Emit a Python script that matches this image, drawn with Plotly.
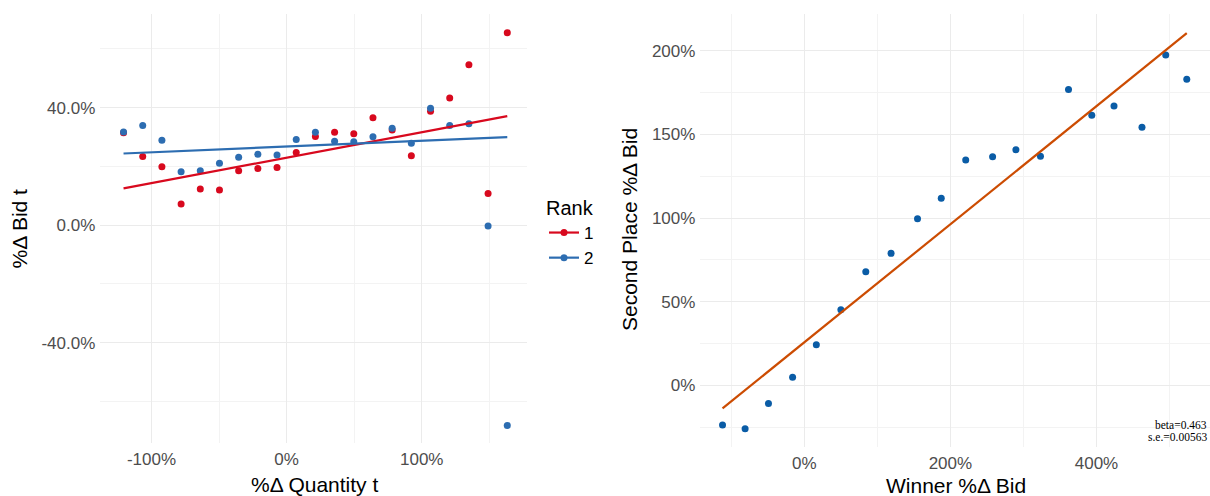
import plotly.graph_objects as go

# ---------------- data (percent units) ----------------
quantity_change = [-120.7, -106.5, -92.3, -78.1, -63.9, -49.7, -35.5, -21.3, -7.1, 7.1,
                   21.3, 35.5, 49.7, 63.9, 78.1, 92.3, 106.5, 120.7, 134.9, 149.1, 163.3]
rank1_bid = [31.5, 23.4, 19.9, 7.2, 12.3, 12.0, 18.5, 19.3, 19.6, 24.7,
             30.2, 31.6, 31.1, 36.6, 32.4, 23.6, 38.8, 43.3, 54.6, 10.8, 65.5]
rank2_bid = [31.7, 33.9, 28.9, 18.2, 18.5, 21.1, 23.1, 24.1, 23.9, 29.2,
             31.6, 28.6, 28.4, 30.1, 33.0, 27.9, 39.8, 33.9, 34.5, -0.3, -68.2]
# fitted-line values at the ends of the quantity range
rank1_fit = [12.5, 37.1]
rank2_fit = [24.4, 30.0]

winner_change = [-111.9, -81.0, -49.0, -16.0, 16.5, 50.1, 84.2, 118.8, 155.0, 187.5,
                 221.0, 257.8, 289.7, 323.3, 361.7, 393.6, 424.0, 462.3, 494.8, 523.6]
second_change = [-23.7, -25.9, -10.8, 4.8, 24.3, 45.2, 67.9, 78.9, 99.6, 111.8,
                 134.7, 136.7, 140.9, 136.9, 176.8, 161.5, 167.0, 154.3, 197.5, 183.0]
winner_fit = [-13.8, 210.5]
beta_label = "beta=0.463"
se_label = "s.e.=0.00563"

rank_names = ["1", "2"]

left_x_ticks = [-100, 0, 100]
left_x_labels = ["-100%", "0%", "100%"]
left_x_minor = [-50, 50, 150]
left_y_ticks = [-40, 0, 40]
left_y_labels = ["-40.0%", "0.0%", "40.0%"]
left_y_minor = [-60, -20, 20, 60]

right_x_ticks = [0, 200, 400]
right_x_labels = ["0%", "200%", "400%"]
right_x_minor = [-100, 100, 300, 500]
right_y_ticks = [0, 50, 100, 150, 200]
right_y_labels = ["0%", "50%", "100%", "150%", "200%"]
right_y_minor = [-25, 25, 75, 125, 175]

# ---------------- styling ----------------
W, H = 1210, 496
RED = "#D8091E"
BLUE = "#2D6DB1"
DOT = "#0A5CA6"
ORANGE = "#CC4C02"
FONT = "Liberation Sans, Arial, sans-serif"
TICK = dict(family=FONT, size=17, color="#4D4D4D")
MAJ = "#EBEBEB"
MIN = "#F3F3F3"


def px(x):
    return x / W


def py(y):
    return 1 - y / H


fig = go.Figure()

fit_x = [min(quantity_change), max(quantity_change)]
for name, vals, fit, col in [(rank_names[0], rank1_bid, rank1_fit, RED),
                             (rank_names[1], rank2_bid, rank2_fit, BLUE)]:
    fig.add_trace(go.Scatter(x=quantity_change, y=vals, mode="markers",
                             marker=dict(color=col, size=7), showlegend=False,
                             xaxis="x", yaxis="y"))
for name, vals, fit, col in [(rank_names[0], rank1_bid, rank1_fit, RED),
                             (rank_names[1], rank2_bid, rank2_fit, BLUE)]:
    fig.add_trace(go.Scatter(x=fit_x, y=fit, mode="lines",
                             line=dict(color=col, width=2.2), showlegend=False,
                             xaxis="x", yaxis="y"))
for name, col in [(rank_names[0], RED), (rank_names[1], BLUE)]:
    fig.add_trace(go.Scatter(x=[None], y=[None], mode="lines+markers", name=name,
                             line=dict(color=col, width=2.2),
                             marker=dict(color=col, size=7),
                             xaxis="x", yaxis="y"))

fig.add_trace(go.Scatter(x=winner_change, y=second_change, mode="markers",
                         marker=dict(color=DOT, size=7), showlegend=False,
                         xaxis="x2", yaxis="y2"))
fig.add_trace(go.Scatter(x=[min(winner_change), max(winner_change)], y=winner_fit,
                         mode="lines", line=dict(color=ORANGE, width=2.2),
                         showlegend=False, xaxis="x2", yaxis="y2"))


def axis(domain, rng, tv, tt, minor, anchor, standoff):
    return dict(domain=domain, range=rng, tickmode="array", tickvals=tv, ticktext=tt,
                showgrid=True, gridcolor=MAJ, gridwidth=1.3, zeroline=False,
                showline=False, ticks="", tickfont=TICK, anchor=anchor,
                ticklabelstandoff=standoff,
                minor=dict(tickmode="array", tickvals=minor, showgrid=True,
                           gridcolor=MIN, gridwidth=1, ticks=""))


fig.update_layout(
    width=W, height=H, autosize=False,
    margin=dict(l=0, r=0, t=0, b=0),
    paper_bgcolor="white", plot_bgcolor="white",
    font=dict(family=FONT, color="black"),
    xaxis=axis([px(100.3), px(527.4)], [-137.9, 178.2], left_x_ticks, left_x_labels,
               left_x_minor, "y", 4),
    yaxis=axis([py(443.3), py(14)], [-74.3, 71.9], left_y_ticks, left_y_labels,
               left_y_minor, "x", 4),
    xaxis2=axis([px(700.4), 1.0], [-142.2, 555.4], right_x_ticks, right_x_labels,
                right_x_minor, "y2", 4),
    yaxis2=axis([py(446.7), py(14)], [-36.7, 222], right_y_ticks, right_y_labels,
                right_y_minor, "x2", 4),
    legend=dict(title=dict(text="Rank", font=dict(family=FONT, size=20, color="black")),
                font=dict(family=FONT, size=17, color="black"),
                x=px(544), y=py(189), xanchor="left", yanchor="top",
                bgcolor="rgba(0,0,0,0)", itemwidth=30, tracegroupgap=0),
    showlegend=True,
)

ann = [
    dict(text="%Δ Quantity t", x=px(314), y=py(484), size=21, angle=0),
    dict(text="%Δ Bid t", x=px(19), y=py(228.5), size=21, angle=-90),
    dict(text="Winner %Δ Bid", x=px(956), y=py(485), size=21, angle=0),
    dict(text="Second Place %Δ Bid", x=px(630), y=py(230), size=21, angle=-90),
]
for a in ann:
    fig.add_annotation(text=a["text"], x=a["x"], y=a["y"], xref="paper", yref="paper",
                       xanchor="center", yanchor="middle", showarrow=False,
                       textangle=a["angle"],
                       font=dict(family=FONT, size=a["size"], color="black"))

for txt, yy in [(beta_label, 425), (se_label, 437.3)]:
    fig.add_annotation(text=txt, x=px(1209), y=py(yy), xref="paper", yref="paper",
                       xanchor="right", yanchor="middle", showarrow=False,
                       font=dict(family="Liberation Serif, Times New Roman, serif",
                                 size=11.5, color="black"))

fig.write_html("out.html",
               config={"displayModeBar": False},
               post_script="document.body.style.margin='0';"
                           "document.body.style.overflow='hidden';")
